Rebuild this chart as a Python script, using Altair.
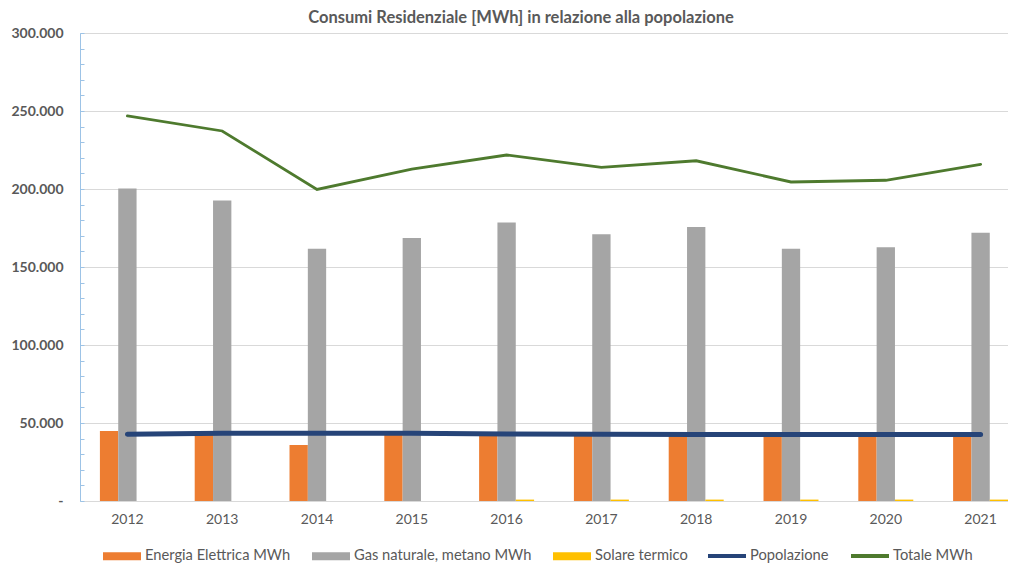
import altair as alt
import pandas as pd

years = [2012, 2013, 2014, 2015, 2016, 2017, 2018, 2019, 2020, 2021]
energia = [44900, 42800, 35900, 43000, 42000, 41800, 41600, 41900, 41500, 41900]
gas = [200400, 192700, 161700, 168600, 178600, 171000, 175600, 161700, 162600, 172000]
solare = [0, 0, 0, 0, 900, 900, 900, 900, 900, 900]
popolazione = [42800, 43400, 43500, 43400, 43000, 42800, 42700, 42600, 42600, 42600]
totale = [246800, 237200, 199700, 212800, 221800, 213900, 218100, 204500, 205600, 215800]

bar_series = ["Energia Elettrica MWh", "Gas naturale, metano MWh", "Solare termico"]
bar_colors = ["#ED7D31", "#A5A5A5", "#FFC000"]
line_series = ["Popolazione", "Totale MWh"]
line_colors = ["#264478", "#4E7A2E"]
line_widths = [5, 2.8]

rows = []
for name, vals in zip(bar_series, [energia, gas, solare]):
    for y, v in zip(years, vals):
        rows.append({"year": str(y), "series": name, "value": v})
bars_df = pd.DataFrame(rows)

rows = []
for name, vals in zip(line_series, [popolazione, totale]):
    for y, v in zip(years, vals):
        rows.append({"year": str(y), "series": name, "value": v})
lines_df = pd.DataFrame(rows)

FONT = "Lato"
GREY = "#595959"

xscale = alt.Scale(paddingInner=0.42, paddingOuter=0.21, range=[0, 948])
yscale = alt.Scale(domain=[0, 300000], nice=False)

x_axis = alt.Axis(title=None, labelFont=FONT, labelFontSize=14, labelColor=GREY,
                  labelPadding=11, ticks=False, domainColor="#D9D9D9", domainWidth=1,
                  labelAngle=0, grid=False)

bars = alt.Chart(bars_df).mark_bar().encode(
    x=alt.X("year:O", scale=xscale, axis=x_axis),
    xOffset=alt.XOffset("series:N", sort=bar_series, scale=alt.Scale(paddingInner=0, paddingOuter=0)),
    y=alt.Y("value:Q", scale=yscale,
            axis=alt.Axis(title=None, values=list(range(0, 300001, 50000)),
                          labelExpr="datum.value == 0 ? '-' : format(datum.value / 1000, '.3f')",
                          labelFont=FONT, labelFontSize=14, labelFontWeight="bold", labelColor=GREY,
                          labelPadding=17, ticks=False, domainColor="#9DC3E6", domainWidth=1,
                          grid=True, gridColor="#D9D9D9", gridWidth=1, orient="left")),
    color=alt.Color("series:N", sort=bar_series,
                    scale=alt.Scale(domain=bar_series, range=bar_colors),
                    legend=alt.Legend(title=None, orient="none", direction="horizontal",
                                      legendX=23, legendY=504,
                                      symbolType="M-1,-0.21L1,-0.21L1,0.21L-1,0.21Z",
                                      symbolSize=1444, symbolStrokeWidth=0,
                                      labelFont=FONT, labelFontSize=14.7, labelColor=GREY,
                                      labelLimit=400, labelOffset=4, columnPadding=21)),
)

lines = alt.Chart(lines_df).mark_line(strokeCap="round").encode(
    x=alt.X("year:O", scale=xscale),
    y=alt.Y("value:Q", scale=yscale,
            axis=alt.Axis(title=None, orient="left", values=list(range(0, 300001, 10000)),
                          labels=False, domain=False, grid=False, ticks=True, tickSize=4,
                          tickColor="#9DC3E6", offset=-4)),
    stroke=alt.Stroke("series:N", sort=line_series,
                      scale=alt.Scale(domain=line_series, range=line_colors),
                      legend=alt.Legend(title=None, orient="none", direction="horizontal",
                                        legendX=626, legendY=502,
                                        symbolType="stroke", symbolSize=1444, symbolStrokeWidth=4,
                                        labelFont=FONT, labelFontSize=14.7, labelColor=GREY,
                                        labelLimit=400, labelOffset=2, columnPadding=14)),
    strokeWidth=alt.StrokeWidth("series:N", scale=alt.Scale(domain=line_series, range=line_widths),
                                legend=None),
    detail="series:N",
)

chart = alt.layer(bars, lines).resolve_axis(y="independent").resolve_legend(
    color="independent", stroke="independent"
).properties(
    width=928, height=468,
    padding={"left": 72, "top": 25, "right": 0, "bottom": 62},
    autosize=alt.AutoSizeParams(type="none"),
    title=alt.TitleParams("Consumi Residenziale [MWh] in relazione alla popolazione",
                          font=FONT, fontSize=16.5, fontWeight="bold", color=GREY,
                          anchor="middle", dx=-23, offset=0),
).configure_view(stroke=None).configure(background="white")

chart.save("out.html", embed_options={"renderer": "svg", "actions": False})
